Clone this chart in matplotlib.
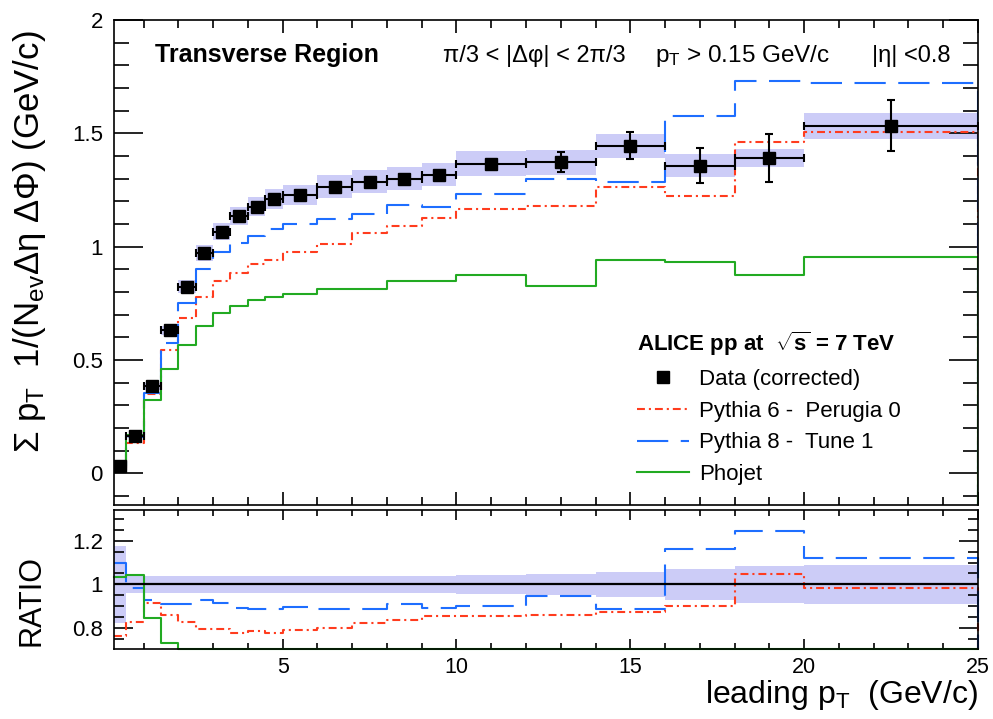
import numpy as np
import matplotlib
matplotlib.use("Agg")
import matplotlib.pyplot as plt
from matplotlib.lines import Line2D
from matplotlib.ticker import MultipleLocator, FuncFormatter

plt.rcParams['font.family'] = ['Liberation Sans', 'DejaVu Sans']
plt.rcParams['mathtext.fontset'] = 'custom'
plt.rcParams['mathtext.rm'] = 'Liberation Sans'
plt.rcParams['mathtext.it'] = 'Liberation Sans:italic'
plt.rcParams['mathtext.bf'] = 'Liberation Sans:bold'

# ---------------- data ----------------
bin_edges = [0.15, 0.5, 1.0, 1.5, 2.0, 2.5, 3.0, 3.5, 4.0, 4.5, 5.0,
             6, 7, 8, 9, 10, 12, 14, 16, 18, 20, 25]
data_val = [0.030, 0.163, 0.383, 0.630, 0.824, 0.973, 1.066, 1.137, 1.176, 1.211,
            1.229, 1.264, 1.286, 1.300, 1.317, 1.366, 1.372, 1.446, 1.358, 1.391, 1.534]
data_stat = [0.003, 0.004, 0.005, 0.006, 0.007, 0.008, 0.008, 0.009, 0.009, 0.010,
             0.008, 0.010, 0.010, 0.012, 0.015, 0.012, 0.044, 0.061, 0.077, 0.107, 0.114]
data_sys = [0.004, 0.008, 0.015, 0.022, 0.030, 0.035, 0.038, 0.040, 0.042, 0.043,
            0.045, 0.050, 0.050, 0.050, 0.050, 0.055, 0.055, 0.053, 0.050, 0.040, 0.057]
ratio_band = [0.175, 0.040, 0.040, 0.040, 0.040, 0.040, 0.040, 0.040, 0.040, 0.040,
              0.040, 0.040, 0.040, 0.040, 0.040, 0.042, 0.048, 0.058, 0.070, 0.085, 0.090]
pythia6 = [0.023, 0.135, 0.350, 0.543, 0.683, 0.777, 0.847, 0.884, 0.924, 0.943,
           0.975, 1.013, 1.060, 1.089, 1.126, 1.168, 1.181, 1.261, 1.225, 1.460, 1.508]
pythia8 = [0.033, 0.160, 0.355, 0.575, 0.752, 0.903, 0.976, 1.015, 1.045, 1.076,
           1.100, 1.121, 1.142, 1.182, 1.175, 1.232, 1.297, 1.285, 1.578, 1.731, 1.721]
phojet = [0.031, 0.170, 0.325, 0.460, 0.565, 0.649, 0.708, 0.740, 0.764, 0.778,
          0.790, 0.813, 0.813, 0.847, 0.847, 0.875, 0.825, 0.942, 0.931, 0.875, 0.955]

labels = ["Data (corrected)", "Pythia 6 -  Perugia 0", "Pythia 8 -  Tune 1", "Phojet"]

# ---------------- style ----------------
C_RED = '#ff3c1e'
C_BLUE = '#1e6eff'
C_GREEN = '#22aa22'
C_BAND = '#ccccf7'
LW = 1.5
LS_RED = (0, (3.8, 1.9, 1.0, 1.9))
LS_BLUE = (0, (15.0, 6.0))

edges = np.array(bin_edges)
centers = 0.5 * (edges[1:] + edges[:-1])
halfw = 0.5 * (edges[1:] - edges[:-1])
widths = edges[1:] - edges[:-1]
d = np.array(data_val)

W, H = 993, 719
fig = plt.figure(figsize=(W / 100, H / 100), dpi=100)
L, R = 114, 978
ax1 = fig.add_axes([L / W, 1 - 505 / H, (R - L) / W, (505 - 20) / H])
ax2 = fig.add_axes([L / W, 1 - 649 / H, (R - L) / W, (649 - 510) / H])

Y1 = (-0.14, 2.0)
Y2 = (0.705, 1.34)


def hist_path(vals, base):
    v = np.asarray(vals, float)
    x = np.r_[edges, edges[-1]]
    y = np.r_[v, v[-1], base]
    return x, y


# ---------------- top panel ----------------
ax1.bar(centers, 2 * np.array(data_sys), bottom=d - np.array(data_sys), width=widths,
        color=C_BAND, linewidth=0, zorder=1)
for vals, col, ls, z in [(pythia6, C_RED, LS_RED, 3), (pythia8, C_BLUE, LS_BLUE, 4),
                         (phojet, C_GREEN, '-', 5)]:
    x, y = hist_path(vals, Y1[0])
    ax1.plot(x, y, drawstyle='steps-post', color=col, lw=LW, ls=ls, zorder=z)
ax1.errorbar(centers, d, xerr=halfw, yerr=data_stat, fmt='s', color='k', ms=8,
             elinewidth=1.5, capsize=3, capthick=1.5, zorder=6)
ax1.set_xlim(edges[0], edges[-1])
ax1.set_ylim(*Y1)

# ---------------- ratio panel ----------------
ax2.bar(centers, 2 * np.array(ratio_band), bottom=d / d - np.array(ratio_band),
        width=widths, color=C_BAND, linewidth=0, zorder=1)
xr, yr = hist_path(d / d, Y2[0])
ax2.plot(xr[:-1], yr[:-1], drawstyle='steps-post', color='k', lw=1.6, zorder=6)
for vals, col, ls, z in [(pythia6, C_RED, LS_RED, 3), (pythia8, C_BLUE, LS_BLUE, 4),
                         (phojet, C_GREEN, '-', 5)]:
    r = np.clip(np.array(vals) / d, Y2[0], Y2[1])
    x, y = hist_path(r, Y2[0])
    ax2.plot(x, y, drawstyle='steps-post', color=col, lw=LW, ls=ls, zorder=z, clip_on=False)
ax2.set_xlim(edges[0], edges[-1])
ax2.set_ylim(*Y2)

# ---------------- axes styling ----------------
fmt = FuncFormatter(lambda v, p: ('%g' % round(v, 3)))
for ax in (ax1, ax2):
    for s in ax.spines.values():
        s.set_linewidth(1.2)
        s.set_zorder(7)
    ax.xaxis.set_major_locator(MultipleLocator(5))
    ax.xaxis.set_minor_locator(MultipleLocator(1))
    ax.tick_params(which='both', direction='in', top=True, right=True, width=1.2,
                   labelsize=16, colors='k')
    ax.yaxis.set_major_formatter(fmt)
    ax.xaxis.set_major_formatter(fmt)

ax1.yaxis.set_major_locator(MultipleLocator(0.5))
ax1.yaxis.set_minor_locator(MultipleLocator(0.1))
ax1.tick_params(axis='y', which='major', length=21, pad=8)
ax1.tick_params(axis='y', which='minor', length=11)
ax1.tick_params(axis='x', which='major', length=9.5)
ax1.tick_params(axis='x', which='minor', length=6)
ax1.tick_params(axis='x', labelbottom=False)

ax2.yaxis.set_major_locator(MultipleLocator(0.2))
ax2.yaxis.set_minor_locator(MultipleLocator(0.05))
ax2.tick_params(axis='y', which='major', length=14, pad=8)
ax2.tick_params(axis='y', which='minor', length=7)
ax2.tick_params(axis='x', which='major', length=7, pad=6, labelsize=15.5)
ax2.tick_params(axis='x', which='minor', length=4)

# ---------------- labels ----------------
fig.text(30 / W, 1 - 242 / H, 'Σ p$_{\\rm T}$  1/(N$_{\\rm ev}$Δη ΔΦ) (GeV/c)',
         rotation=90, ha='center', va='center', fontsize=25)
fig.text(32 / W, 1 - 601 / H, 'RATIO', rotation=90, ha='center', va='center', fontsize=22)
fig.text(978 / W, 1 - 703 / H, 'leading p$_{\\rm T}$  (GeV/c)', ha='right', va='baseline',
         fontsize=23)

fig.text(155 / W, 1 - 62 / H, 'Transverse Region', ha='left', va='baseline',
         fontsize=18, fontweight='bold')
fig.text(443 / W, 1 - 62 / H, 'π/3 < |Δφ| < 2π/3', ha='left', va='baseline', fontsize=17)
fig.text(655 / W, 1 - 62 / H, 'p$_{\\rm T}$ > 0.15 GeV/c', ha='left', va='baseline', fontsize=17.5)
fig.text(872 / W, 1 - 62 / H, '|η| <0.8', ha='left', va='baseline', fontsize=17)

# ---------------- legend ----------------
handles = [
    Line2D([], [], marker='s', color='k', ls='none', ms=8),
    Line2D([], [], color=C_RED, lw=LW, ls=LS_RED),
    Line2D([], [], color=C_BLUE, lw=LW, ls=LS_BLUE),
    Line2D([], [], color=C_GREEN, lw=LW, ls='-'),
]
leg = ax1.legend(handles, labels, loc='upper left',
                 bbox_to_anchor=((637 - L) / (R - L), (505 - 330) / 485),
                 frameon=False, fontsize=16, borderpad=0, borderaxespad=0,
                 handlelength=2.35, handletextpad=0.45, labelspacing=0.48,
                 title='ALICE pp at  $\\sqrt{\\mathbf{s}}$ = 7 TeV',
                 title_fontproperties={'weight': 'bold', 'size': 16},
                 alignment='left')
leg.set_zorder(8)

fig.savefig('out.png', dpi=100)
